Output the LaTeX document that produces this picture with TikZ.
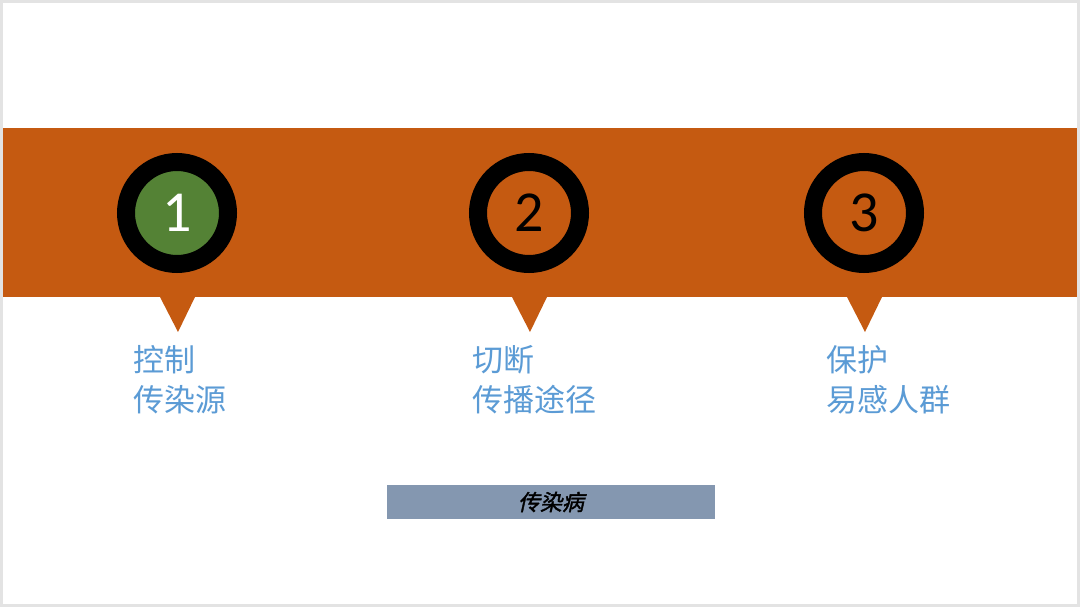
\documentclass[tikz,border=0pt]{standalone}
\usepackage{fontspec}
\newfontfamily\cjk{Noto Sans CJK SC}
\newfontfamily\cjkbi{Noto Sans CJK SC}[FakeSlant=0.22,FakeBold=1.6]
\newfontfamily\numfont{Carlito}
\definecolor{bandorange}{HTML}{C55A11}
\definecolor{markgreen}{HTML}{548235}
\definecolor{textblue}{HTML}{5B9BD5}
\definecolor{captiongray}{HTML}{8497B0}
\definecolor{slideedge}{HTML}{E3E3E3}
\tikzset{
  marker/.style={circle, draw=black, line width=18pt, minimum size=102pt,
    inner sep=0pt, font=\numfont\fontsize{58}{58}\selectfont},
  measure/.style={anchor=west, align=left, text=textblue,
    font=\cjk\fontsize{31}{40}\selectfont, inner sep=0pt},
}

\begin{document}
\begin{tikzpicture}[x=1pt, y=-1pt]
  % slide frame, 1080 x 607 px
  \useasboundingbox (0,0) rectangle (1080,607);
  \fill[slideedge] (0,0) rectangle (1080,607);
  \fill[white] (3,3) rectangle (1077,604);

  % the orange band across the slide
  \fill[bandorange] (3,128) rectangle (1077,297);

  % three numbered markers on the band
  \node[marker, fill=markgreen, text=white] (m1) at (177,213) {1};
  \node[marker, fill=bandorange, text=black] (m2) at (529,213) {2};
  \node[marker, fill=bandorange, text=black] (m3) at (864,213) {3};

  % pointer below each marker
  \fill[bandorange] (m1) ++(-17,84) -- ++(35,0) -- ++(-17,35) -- cycle;
  \fill[bandorange] (m2) ++(-17,84) -- ++(35,0) -- ++(-17,35) -- cycle;
  \fill[bandorange] (m3) ++(-17,84) -- ++(35,0) -- ++(-17,35) -- cycle;

  % measures under the pointers
  \node[measure] (t1) at (133,380) {控制\\传染源};
  \node[measure] (t2) at (472,380) {切断\\传播途径};
  \node[measure] (t3) at (826,380) {保护\\易感人群};

  % caption
  \fill[captiongray] (387,485) rectangle (715,519);
  \node[font=\cjkbi\fontsize{22}{22}\selectfont, text=black] (cap) at (551,502) {传染病};
\end{tikzpicture}
\end{document}
